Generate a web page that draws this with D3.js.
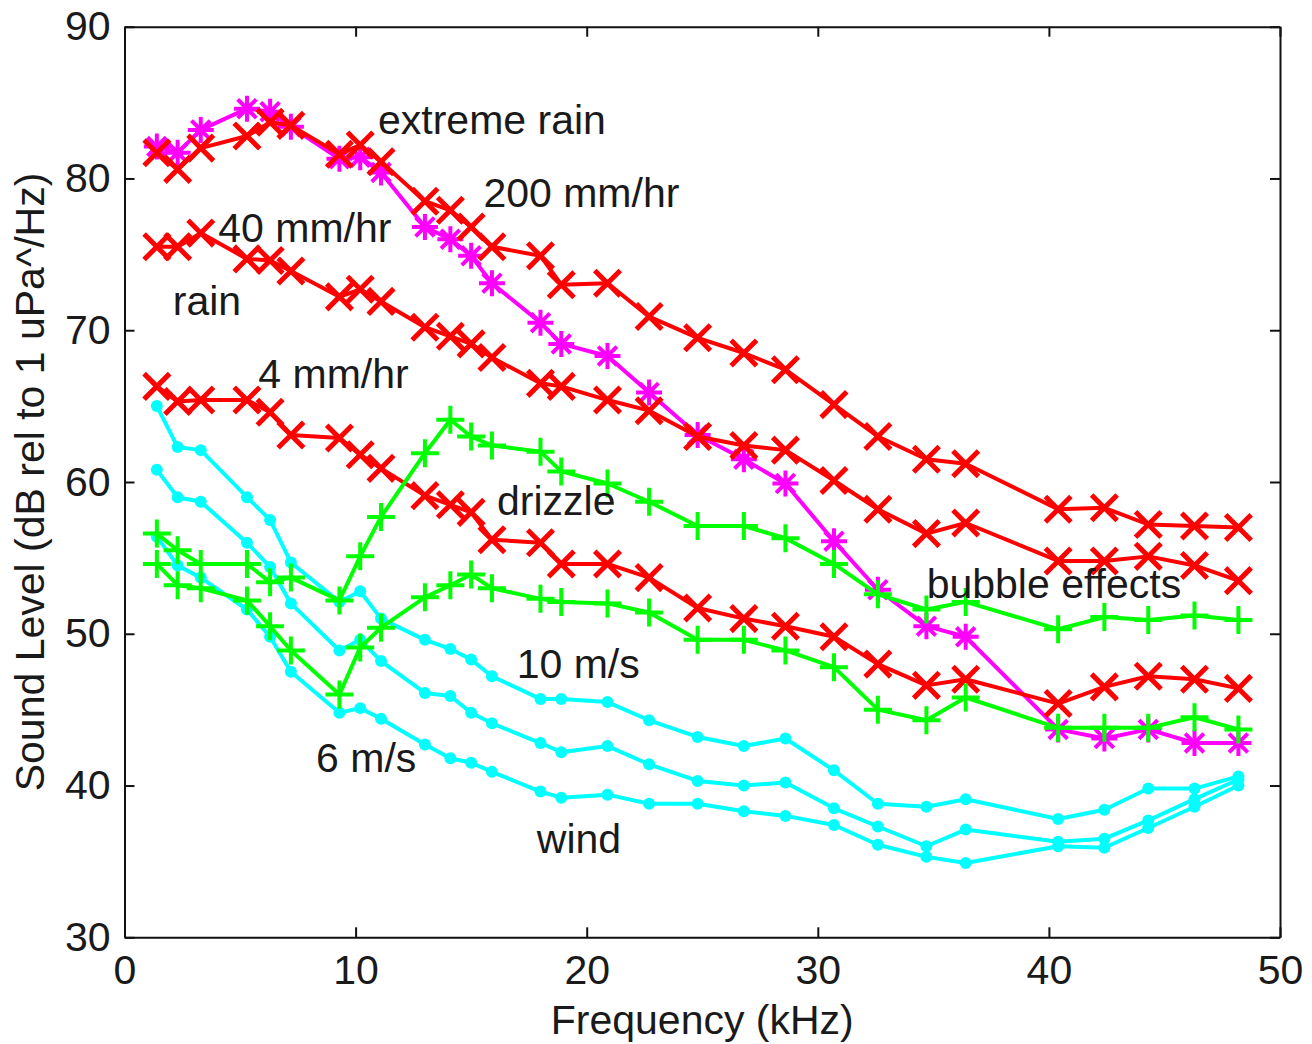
<!DOCTYPE html>
<html>
<head>
<meta charset="utf-8">
<script src="https://cdn.jsdelivr.net/npm/d3@7"></script>
<style>
  html, body { margin: 0; padding: 0; background: #fff; }
  svg { display: block; }
  text { font-family: "Liberation Sans", Arial, Helvetica, sans-serif; fill: #1a1a1a; }
</style>
</head>
<body>
<svg id="chart" width="1312" height="1044"></svg>
<script>
// Frequencies (kHz) shared by every spectrum
const freqKHz = [1.4, 2.3, 3.3, 5.3, 6.3, 7.2, 9.3, 10.2, 11.1, 13.0, 14.1, 15.0, 15.9, 18.0, 18.9,
                 20.9, 22.7, 24.8, 26.8, 28.6, 30.7, 32.6, 34.7, 36.4, 40.4, 42.4, 44.3, 46.3, 48.2];

// Sound level spectra, dB re 1 uPa/sqrt(Hz)
const extremeRain200 = [81.7, 80.6, 82.0, 82.8, 83.7, 83.5, 81.6, 82.2, 81.1, 78.5, 77.9, 76.8, 75.5, 74.9, 73.0,
                        73.1, 70.9, 69.5, 68.5, 67.4, 65.1, 63.0, 61.5, 61.2, 58.2, 58.3, 57.2, 57.1, 57.0];
const extremeRainB   = [82.1, 81.7, 83.2, 84.6, 84.4, 83.4, 81.3, 81.4, 80.4, 76.8, 76.0, 74.9, 73.1, 70.5, 69.1,
                        68.3, 65.9, 63.1, 61.5, 59.9, 56.1, 52.9, 50.5, 49.8, 43.7, 43.1, 43.7, 42.8, 42.8];
const rain40         = [75.5, 75.5, 76.4, 74.7, 74.6, 73.9, 72.2, 72.7, 71.9, 70.2, 69.6, 69.1, 68.2, 66.5, 66.3,
                        65.4, 64.7, 63.0, 62.4, 62.1, 60.1, 58.2, 56.6, 57.3, 54.8, 54.8, 55.1, 54.5, 53.5];
const drizzle4       = [66.3, 65.3, 65.4, 65.4, 64.6, 63.1, 62.9, 61.8, 60.9, 59.1, 58.5, 58.0, 56.2, 56.0, 54.6,
                        54.6, 53.7, 51.7, 51.0, 50.5, 49.8, 48.0, 46.6, 47.0, 45.4, 46.5, 47.2, 47.0, 46.4];
const bubbleUpper    = [56.6, 55.5, 54.6, 54.6, 53.4, 53.7, 52.2, 55.1, 57.7, 61.9, 64.1, 63.0, 62.4, 62.0, 60.7,
                        59.9, 58.7, 57.1, 57.1, 56.3, 54.6, 52.6, 51.6, 52.1, 50.3, 51.1, 50.9, 51.2, 50.9];
const bubbleLower    = [54.6, 53.2, 53.0, 52.2, 50.5, 48.9, 46.0, 49.1, 50.4, 52.4, 53.2, 53.9, 53.0, 52.3, 52.1,
                        52.0, 51.4, 49.6, 49.6, 48.9, 47.8, 45.0, 44.3, 45.8, 43.8, 43.8, 43.8, 44.5, 43.7];
const windHigh       = [65.0, 62.3, 62.1, 59.0, 57.5, 54.7, 52.1, 52.8, 51.0, 49.6, 49.0, 48.3, 47.2, 45.7, 45.7,
                        45.5, 44.3, 43.2, 42.6, 43.1, 41.0, 38.8, 38.6, 39.1, 37.8, 38.4, 39.8, 39.8, 40.6];
const windMid        = [60.8, 59.0, 58.7, 56.0, 54.4, 52.0, 48.9, 49.6, 48.2, 46.1, 45.9, 44.8, 44.1, 42.8, 42.2,
                        42.6, 41.4, 40.3, 40.0, 40.2, 38.5, 37.3, 36.0, 37.1, 36.3, 36.5, 37.7, 39.1, 40.4];
const windLow        = [56.4, 54.5, 53.7, 51.6, 49.8, 47.5, 44.8, 45.1, 44.4, 42.7, 41.8, 41.5, 40.9, 39.6, 39.2,
                        39.4, 38.8, 38.8, 38.3, 38.0, 37.4, 36.1, 35.3, 34.9, 36.0, 35.9, 37.2, 38.6, 40.0];

// Axis ticks and titles
const xTicks = [0, 10, 20, 30, 40, 50];
const yTicks = [30, 40, 50, 60, 70, 80, 90];
const xTitle = "Frequency (kHz)";
const yTitle = "Sound Level (dB rel to 1 uPa^/Hz)";

// Annotations: text and anchor in data units (kHz, dB)
const noteText = ["extreme rain", "200 mm/hr", "40 mm/hr", "rain", "4 mm/hr", "drizzle",
                  "bubble effects", "10 m/s", "6 m/s", "wind"];
const noteKHz  = [10.97, 15.53, 4.06, 2.09, 5.79, 16.12, 34.71, 16.97, 8.29, 17.84];
const noteDB   = [82.93, 78.14, 75.83, 71.0, 66.17, 57.83, 52.34, 47.07, 40.91, 35.54];

// Plot order: wind first, then rain, bubbles on top
const series = [
  { values: windHigh,       color: "#00ffff", marker: "dot" },
  { values: windMid,        color: "#00ffff", marker: "dot" },
  { values: windLow,        color: "#00ffff", marker: "dot" },
  { values: extremeRainB,   color: "#ff00ff", marker: "star" },
  { values: extremeRain200, color: "#ff0000", marker: "x" },
  { values: rain40,         color: "#ff0000", marker: "x" },
  { values: drizzle4,       color: "#ff0000", marker: "x" },
  { values: bubbleUpper,    color: "#00ff00", marker: "plus" },
  { values: bubbleLower,    color: "#00ff00", marker: "plus" }
];

const svg = d3.select("#chart");
const W = 1312, H = 1044;
const plot = { left: 124.5, right: 1280, top: 26.7, bottom: 937.3 };

const x = d3.scaleLinear().domain([0, 50]).range([plot.left, plot.right]);
const y = d3.scaleLinear().domain([30, 90]).range([plot.bottom, plot.top]);

svg.append("rect").attr("width", W).attr("height", H).attr("fill", "#fff");

const FONT = 41;

// Data lines and markers
const line = d3.line().x(d => x(d[0])).y(d => y(d[1]));

function markerPath(kind) {
  const h = 11;
  if (kind === "x") return `M${-h},${-h}L${h},${h}M${-h},${h}L${h},${-h}`;
  if (kind === "plus") return `M${-h - 1},0H${h + 1}M0,${-h - 1}V${h + 1}`;
  if (kind === "star") {
    const d = h * 0.72;
    return `M${-h},0H${h}M0,${-h}V${h}M${-d},${-d}L${d},${d}M${-d},${d}L${d},${-d}`;
  }
  return null;
}

const gData = svg.append("g");
series.forEach(s => {
  const pts = freqKHz.map((f, i) => [f, s.values[i]]);
  const g = gData.append("g");
  g.append("path")
    .datum(pts)
    .attr("d", line)
    .attr("fill", "none")
    .attr("stroke", s.color)
    .attr("stroke-width", 4)
    .attr("stroke-linejoin", "round");
  if (s.marker === "dot") {
    g.selectAll("circle").data(pts).join("circle")
      .attr("cx", d => x(d[0])).attr("cy", d => y(d[1]))
      .attr("r", 6).attr("fill", s.color);
  } else {
    g.selectAll("path.mk").data(pts).join("path")
      .attr("class", "mk")
      .attr("transform", d => `translate(${x(d[0])},${y(d[1])})`)
      .attr("d", markerPath(s.marker))
      .attr("fill", "none")
      .attr("stroke", s.color)
      .attr("stroke-width", s.marker === "x" ? 5 : 4)
      .attr("stroke-linecap", "square");
  }
});

// Axes with inward ticks on all four sides
const axB = d3.axisBottom(x).tickValues(xTicks).tickSizeInner(-10).tickSizeOuter(0).tickPadding(18);
const axL = d3.axisLeft(y).tickValues(yTicks).tickSizeInner(-10).tickSizeOuter(0).tickPadding(14);
const axT = d3.axisTop(x).tickValues(xTicks).tickSizeInner(-10).tickSizeOuter(0).tickFormat("");
const axR = d3.axisRight(y).tickValues(yTicks).tickSizeInner(-10).tickSizeOuter(0).tickFormat("");

function styleAxis(g) {
  g.selectAll("path.domain").attr("stroke", "#111").attr("stroke-width", 2);
  g.selectAll(".tick line").attr("stroke", "#111").attr("stroke-width", 2);
  g.selectAll(".tick text").attr("font-size", FONT).attr("fill", "#1a1a1a")
    .attr("font-family", "'Liberation Sans', Arial, sans-serif");
}

svg.append("g").attr("transform", `translate(0,${plot.bottom})`).call(axB).call(styleAxis);
svg.append("g").attr("transform", `translate(${plot.left},0)`).call(axL).call(styleAxis);
svg.append("g").attr("transform", `translate(0,${plot.top})`).call(axT).call(styleAxis);
svg.append("g").attr("transform", `translate(${plot.right},0)`).call(axR).call(styleAxis);

// Axis titles
svg.append("text")
  .attr("x", (plot.left + plot.right) / 2)
  .attr("y", 1034)
  .attr("text-anchor", "middle")
  .attr("font-size", FONT)
  .text(xTitle);

svg.append("text")
  .attr("transform", `translate(44,${(plot.top + plot.bottom) / 2}) rotate(-90)`)
  .attr("text-anchor", "middle")
  .attr("font-size", FONT)
  .text(yTitle);

// In-plot annotations
svg.append("g").selectAll("text").data(noteText).join("text")
  .attr("x", (d, i) => x(noteKHz[i]))
  .attr("y", (d, i) => y(noteDB[i]))
  .attr("font-size", FONT)
  .text(d => d);
</script>
</body>
</html>
